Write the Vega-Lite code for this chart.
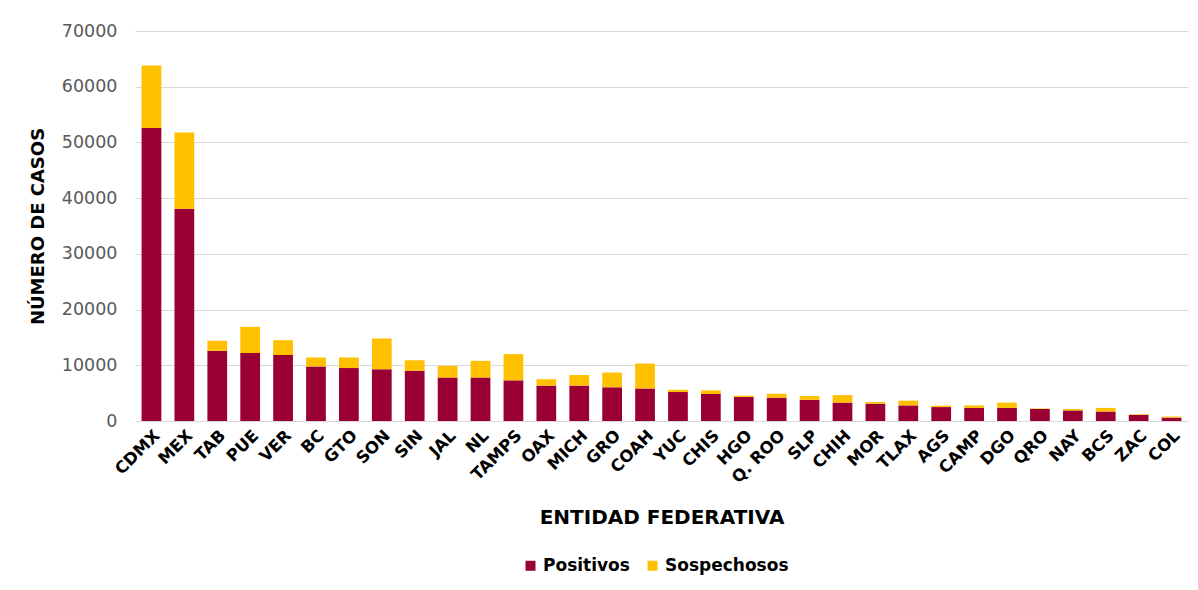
{
  "$schema": "https://vega.github.io/schema/vega-lite/v6.json",
  "autosize": {"type": "none"},
  "padding": {"left": 135, "top": 31, "right": 10, "bottom": 169},
  "width": 1053,
  "height": 390,
  "background": "white",
  "data": {"values": [
    {"estado": "CDMX", "Positivos": 52600, "Sospechosos": 11200},
    {"estado": "MEX", "Positivos": 38100, "Sospechosos": 13700},
    {"estado": "TAB", "Positivos": 12600, "Sospechosos": 1800},
    {"estado": "PUE", "Positivos": 12200, "Sospechosos": 4700},
    {"estado": "VER", "Positivos": 11850, "Sospechosos": 2650},
    {"estado": "BC", "Positivos": 9800, "Sospechosos": 1600},
    {"estado": "GTO", "Positivos": 9500, "Sospechosos": 1900},
    {"estado": "SON", "Positivos": 9300, "Sospechosos": 5500},
    {"estado": "SIN", "Positivos": 9000, "Sospechosos": 1900},
    {"estado": "JAL", "Positivos": 7800, "Sospechosos": 2100},
    {"estado": "NL", "Positivos": 7800, "Sospechosos": 3000},
    {"estado": "TAMPS", "Positivos": 7300, "Sospechosos": 4700},
    {"estado": "OAX", "Positivos": 6350, "Sospechosos": 1150},
    {"estado": "MICH", "Positivos": 6350, "Sospechosos": 1900},
    {"estado": "GRO", "Positivos": 6050, "Sospechosos": 2650},
    {"estado": "COAH", "Positivos": 5850, "Sospechosos": 4450},
    {"estado": "YUC", "Positivos": 5200, "Sospechosos": 400},
    {"estado": "CHIS", "Positivos": 4850, "Sospechosos": 650},
    {"estado": "HGO", "Positivos": 4300, "Sospechosos": 250},
    {"estado": "Q. ROO", "Positivos": 4200, "Sospechosos": 700},
    {"estado": "SLP", "Positivos": 3800, "Sospechosos": 700},
    {"estado": "CHIH", "Positivos": 3300, "Sospechosos": 1350},
    {"estado": "MOR", "Positivos": 3100, "Sospechosos": 300},
    {"estado": "TLAX", "Positivos": 2800, "Sospechosos": 850},
    {"estado": "AGS", "Positivos": 2500, "Sospechosos": 250},
    {"estado": "CAMP", "Positivos": 2350, "Sospechosos": 450},
    {"estado": "DGO", "Positivos": 2350, "Sospechosos": 950},
    {"estado": "QRO", "Positivos": 2150, "Sospechosos": 100},
    {"estado": "NAY", "Positivos": 1900, "Sospechosos": 250},
    {"estado": "BCS", "Positivos": 1700, "Sospechosos": 650},
    {"estado": "ZAC", "Positivos": 1100, "Sospechosos": 100},
    {"estado": "COL", "Positivos": 600, "Sospechosos": 200}
  ]},
  "transform": [{"fold": ["Positivos", "Sospechosos"], "as": ["tipo", "casos"]}],
  "mark": {"type": "bar"},
  "encoding": {
    "x": {
      "field": "estado", "type": "nominal", "sort": null,
      "scale": {"paddingInner": 0.4, "paddingOuter": 0.2},
      "axis": {
        "title": "ENTIDAD FEDERATIVA",
        "labelAngle": -45,
        "labelFont": "DejaVu Sans", "labelFontWeight": "bold", "labelFontSize": 16.5, "labelColor": "#000000",
        "labelPadding": 6,
        "ticks": false, "domain": false,
        "titleFont": "DejaVu Sans", "titleFontWeight": "bold", "titleFontSize": 20, "titleColor": "#000000",
        "titlePadding": 22
      }
    },
    "y": {
      "field": "casos", "type": "quantitative", "aggregate": "sum",
      "scale": {"domain": [0, 70000]},
      "axis": {
        "title": "NÚMERO DE CASOS",
        "values": [0, 10000, 20000, 30000, 40000, 50000, 60000, 70000],
        "format": "d",
        "labelFont": "DejaVu Sans", "labelFontSize": 17.5, "labelColor": "#595959",
        "labelPadding": 18,
        "ticks": false, "domain": false,
        "gridColor": "#d9d9d9", "gridWidth": 1,
        "titleFont": "DejaVu Sans", "titleFontWeight": "bold", "titleFontSize": 18, "titleColor": "#000000",
        "titlePadding": 14
      }
    },
    "color": {
      "field": "tipo", "type": "nominal",
      "scale": {"domain": ["Positivos", "Sospechosos"], "range": ["#9b0035", "#ffc000"]},
      "legend": {
        "title": null, "orient": "none", "direction": "horizontal",
        "legendX": 387, "legendY": 526,
        "symbolType": "square", "symbolSize": 100, "symbolStrokeWidth": 0,
        "labelFont": "DejaVu Sans", "labelFontWeight": "bold", "labelFontSize": 17, "labelColor": "#000000",
        "labelOffset": 4,
        "columnPadding": 14
      }
    },
    "order": {"field": "tipo", "sort": "ascending"}
  },
  "config": {"view": {"stroke": null}}
}
